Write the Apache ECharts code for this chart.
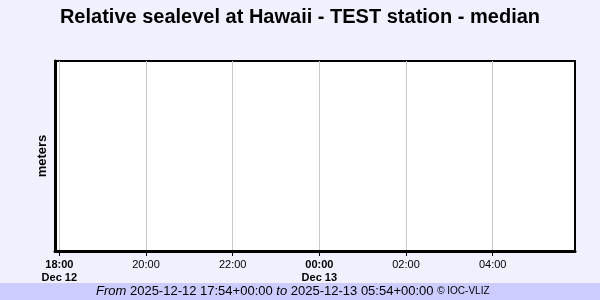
<!DOCTYPE html>
<html>
<head>
<meta charset="utf-8">
<script src="https://cdn.jsdelivr.net/npm/echarts@6/dist/echarts.min.js"></script>
<style>
html,body{margin:0;padding:0;background:#f0f0ff;}
#c{width:600px;height:300px;}
</style>
</head>
<body>
<div id="c"></div>
<script>
var titleText = 'Relative sealevel at Hawaii - TEST station - median';
var yAxisName = 'meters';
var rangeStart = '2025-12-12T17:54:00Z';
var rangeEnd = '2025-12-13T05:54:00Z';
var tickTimes = ['2025-12-12T18:00:00Z','2025-12-12T20:00:00Z','2025-12-12T22:00:00Z','2025-12-13T00:00:00Z','2025-12-13T02:00:00Z','2025-12-13T04:00:00Z'];
var tickLabels = ['18:00\nDec 12','20:00','22:00','00:00\nDec 13','02:00','04:00'];
var seaLevelTimes = [];
var seaLevelValues = [];
var footerFrom = '2025-12-12 17:54+00:00';
var footerTo = '2025-12-13 05:54+00:00';
var footerCredit = '\u00a9 IOC-VLIZ';

var minT = Date.parse(rangeStart), maxT = Date.parse(rangeEnd);
var tickMs = tickTimes.map(function(t){return Date.parse(t);});
var labelMap = {};
tickMs.forEach(function(t,i){labelMap[t]=tickLabels[i];});

var chart = echarts.init(document.getElementById('c'));
var data = seaLevelTimes.map(function(t,i){return [Date.parse(t), seaLevelValues[i]];});
chart.setOption({
  backgroundColor: '#f0f0ff',
  animation: false,
  textStyle: {fontFamily: 'Liberation Sans, Arial, sans-serif'},
  title: {
    text: titleText, left: 'center', top: 2,
    textStyle: {fontSize: 20, fontWeight: 'bold', color: '#000', fontFamily: 'Liberation Sans, Arial, sans-serif'}
  },
  grid: {left: 55, right: 25, top: 61, bottom: 49, show: true, backgroundColor: '#fff', borderColor: '#000', borderWidth: 2},
  xAxis: {
    type: 'value', min: minT, max: maxT, scale: true,
    axisLine: {show: true, onZero: false, lineStyle: {color: '#000', width: 3}},
    axisTick: {show: true, length: 5, customValues: tickMs, lineStyle: {color: '#000', width: 1}},
    splitLine: {show: true, lineStyle: {color: '#c8c8c8', width: 1}},
    axisLabel: {
      show: true, color: '#000', fontSize: 11, margin: 7, lineHeight: 13,
      customValues: tickMs,
      formatter: function(v){
        var s = labelMap[v];
        if (s === undefined) return '';
        if (s.indexOf('\n') >= 0) {
          var p = s.split('\n');
          return '{b|' + p[0] + '}\n{b|' + p[1] + '}';
        }
        return s;
      },
      rich: {b: {fontWeight: 'bold', fontSize: 11, lineHeight: 13, color: '#000'}}
    }
  },
  yAxis: {
    type: 'value', min: 0, max: 1,
    name: yAxisName, nameLocation: 'middle', nameGap: 6, nameRotate: 90,
    nameTextStyle: {fontSize: 13, fontWeight: 'bold', color: '#000'},
    axisLine: {show: true, lineStyle: {color: '#000', width: 3}},
    axisTick: {show: false}, axisLabel: {show: false}, splitLine: {show: false}
  },
  series: [{type: 'line', data: data, showSymbol: false, lineStyle: {color: '#0000cc', width: 1}}],
  graphic: [
    {type: 'rect', left: 0, top: 283, shape: {width: 600, height: 17}, style: {fill: '#ccccff'}, silent: true},
    {type: 'text', left: 96, top: 285, style: {
      text: '{i|From} ' + footerFrom + ' {i|to} ' + footerTo + ' {s|' + footerCredit + '}',
      fontSize: 13, fill: '#000', fontFamily: 'Liberation Sans, Arial, sans-serif',
      rich: {
        i: {fontStyle: 'italic', fontSize: 13, fill: '#000', fontFamily: 'Liberation Sans, Arial, sans-serif'},
        s: {fontSize: 10, fill: '#000', fontFamily: 'Liberation Sans, Arial, sans-serif'}
      }
    }}
  ]
});
</script>
</body>
</html>
